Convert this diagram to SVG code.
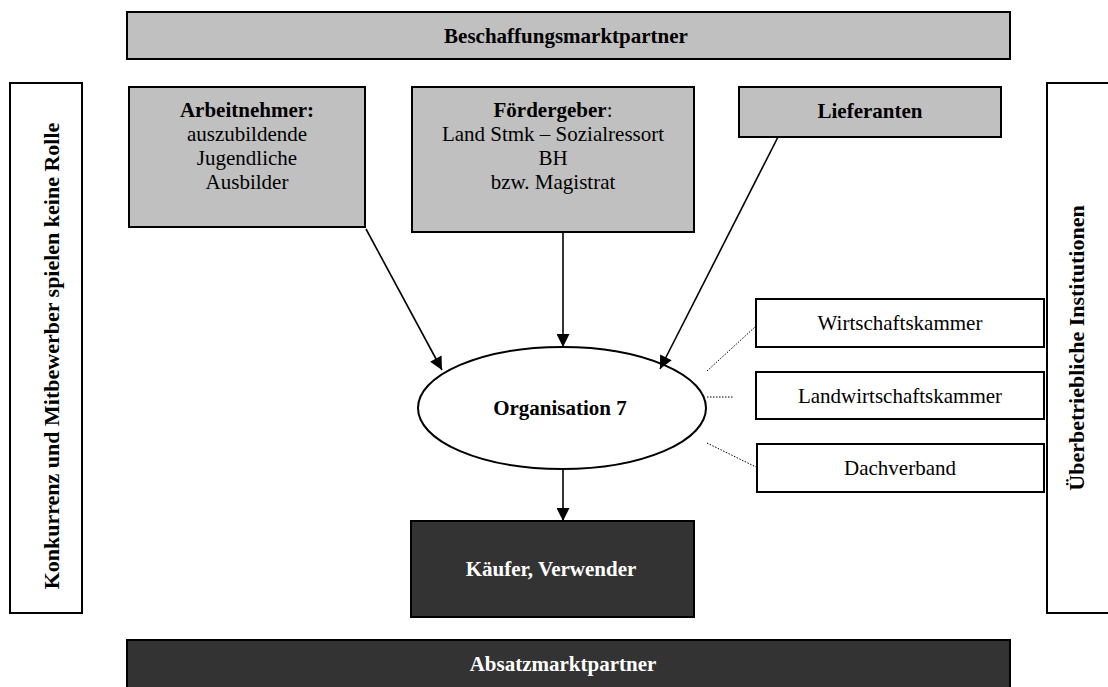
<svg xmlns="http://www.w3.org/2000/svg" width="1108" height="687" viewBox="0 0 1108 687">
  <style>
    text { font-family: "Liberation Serif", "Times New Roman", serif; font-size: 21px; fill: #000; text-anchor: middle; }
    .b { font-weight: bold; }
    .w { fill: #fff; }
    .v { font-size: 22px; }
    .grey { fill: #c0c0c0; stroke: #000; stroke-width: 2; }
    .dark { fill: #333333; stroke: #000; stroke-width: 2; }
    .plain { fill: #fff; stroke: #000; stroke-width: 2; }
    .arrow { stroke: #000; stroke-width: 1.6; fill: none; marker-end: url(#head); }
    .dot { stroke: #000; stroke-width: 1; stroke-dasharray: 1.5 1.5; fill: none; }
  </style>
  <defs>
    <marker id="head" viewBox="0 0 10 10" refX="10" refY="5" markerWidth="15" markerHeight="13" markerUnits="userSpaceOnUse" orient="auto">
      <path d="M0,0 L10,5 L0,10 Z" fill="#000"/>
    </marker>
  </defs>
  <rect width="1108" height="687" fill="#fff"/>

  <g id="beschaffungsmarkt">
    <rect class="grey" x="127" y="12" width="883" height="47"/>
    <text class="b" x="566" y="43">Beschaffungsmarktpartner</text>
  </g>

  <g id="konkurrenz">
    <rect class="plain" x="10" y="83" width="72" height="530"/>
    <text class="b v" transform="translate(59,356) rotate(-90)">Konkurrenz und Mitbewerber spielen keine Rolle</text>
  </g>

  <g id="institutionen">
    <rect class="plain" x="1047" y="83" width="70" height="530"/>
    <text class="b v" transform="translate(1084,348) rotate(-90)">Überbetriebliche Institutionen</text>
  </g>

  <g id="arbeitnehmer">
    <rect class="grey" x="129" y="87" width="236" height="140"/>
    <text x="247" y="117"><tspan class="b">Arbeitnehmer:</tspan></text>
    <text x="247" y="141">auszubildende</text>
    <text x="247" y="165">Jugendliche</text>
    <text x="247" y="189">Ausbilder</text>
  </g>

  <g id="foerdergeber">
    <rect class="grey" x="412" y="87" width="282" height="145"/>
    <text x="553" y="117"><tspan class="b">Fördergeber</tspan>:</text>
    <text x="553" y="141">Land Stmk – Sozialressort</text>
    <text x="553" y="165">BH</text>
    <text x="553" y="189">bzw. Magistrat</text>
  </g>

  <g id="lieferanten">
    <rect class="grey" x="739" y="87" width="262" height="50"/>
    <text class="b" x="870" y="118">Lieferanten</text>
  </g>

  <g id="organisation">
    <ellipse cx="562" cy="408" rx="144" ry="61" fill="#fff" stroke="#000" stroke-width="2"/>
    <text class="b" x="560" y="415">Organisation 7</text>
  </g>

  <g id="kaeufer">
    <rect class="dark" x="411" y="521" width="283" height="96"/>
    <text class="b w" x="551" y="576">Käufer, Verwender</text>
  </g>

  <g id="absatzmarkt">
    <rect class="dark" x="127" y="640" width="883" height="50"/>
    <text class="b w" x="563" y="671">Absatzmarktpartner</text>
  </g>

  <g id="wirtschaftskammer">
    <rect class="plain" x="756" y="299" width="288" height="48"/>
    <text x="900" y="330">Wirtschaftskammer</text>
  </g>

  <g id="landwirtschaftskammer">
    <rect class="plain" x="756" y="372" width="288" height="47"/>
    <text x="900" y="403">Landwirtschaftskammer</text>
  </g>

  <g id="dachverband">
    <rect class="plain" x="757" y="444" width="287" height="48"/>
    <text x="900" y="475">Dachverband</text>
  </g>

  <g id="connectors">
    <line class="arrow" x1="366" y1="229" x2="442" y2="370"/>
    <line class="arrow" x1="563" y1="232" x2="563" y2="347"/>
    <line class="arrow" x1="778" y1="137" x2="660" y2="369"/>
    <line class="arrow" x1="563" y1="469" x2="563" y2="521"/>
    <line class="dot" x1="707" y1="371" x2="755" y2="327"/>
    <line class="dot" x1="707" y1="397" x2="733" y2="397"/>
    <line class="dot" x1="707" y1="443" x2="756" y2="467"/>
  </g>
</svg>
